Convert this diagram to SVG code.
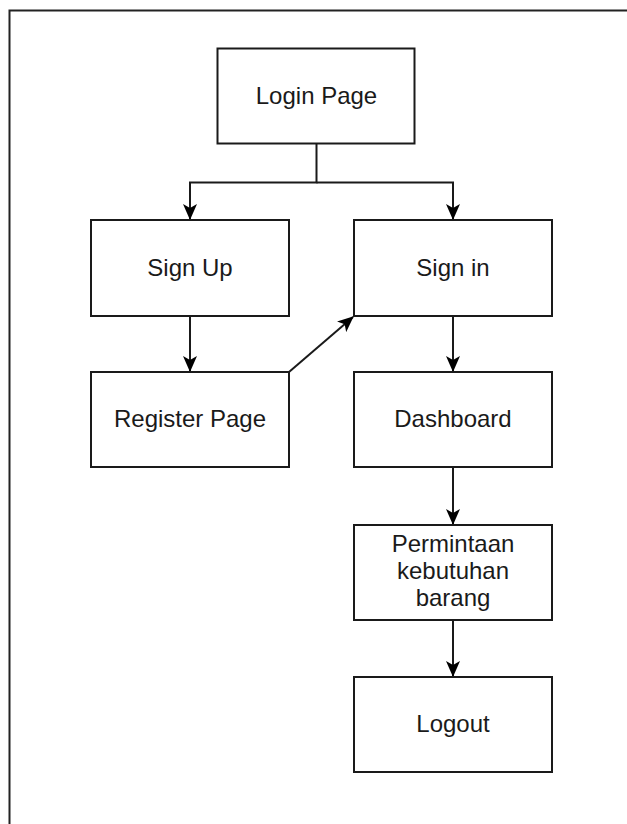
<svg xmlns="http://www.w3.org/2000/svg" width="627" height="824" viewBox="0 0 627 824">
  <style>
    .box { fill: #ffffff; stroke: #1a1a1a; stroke-width: 2; }
    .label { font-family: "Liberation Sans", Arial, sans-serif; font-size: 24px; fill: #1a1a1a; text-anchor: middle; }
    .edge { fill: none; stroke: #1a1a1a; stroke-width: 2; }
  </style>
  <defs>
    <marker id="arrow" viewBox="0 0 16 14" refX="15" refY="7" markerWidth="16" markerHeight="14" markerUnits="userSpaceOnUse" orient="auto">
      <path d="M0,0 L16,7 L0,14 L4,7 Z" fill="#000000"/>
    </marker>
  </defs>

  <rect x="0" y="0" width="627" height="824" fill="#ffffff"/>

  <!-- outer frame: top and left edges only, the rest runs off the page -->
  <path d="M9.5,830 L9.5,10.5 L630,10.5" fill="none" stroke="#222222" stroke-width="2"/>

  <g id="connectors">
    <path class="edge" d="M316.5,143.5 L316.5,182.5 L190,182.5 L190,219" marker-end="url(#arrow)"/>
    <path class="edge" d="M316.5,182.5 L453,182.5 L453,219" marker-end="url(#arrow)"/>
    <path class="edge" d="M190,316 L190,371" marker-end="url(#arrow)"/>
    <path class="edge" d="M289,372 L353,317" marker-end="url(#arrow)" stroke="#444444"/>
    <path class="edge" d="M453,316 L453,371" marker-end="url(#arrow)"/>
    <path class="edge" d="M453,467 L453,524" marker-end="url(#arrow)"/>
    <path class="edge" d="M453,620 L453,676" marker-end="url(#arrow)"/>
  </g>

  <g id="login-page">
    <rect class="box" x="217.5" y="48.5" width="197" height="95"/>
    <text class="label" x="316.5" y="104">Login Page</text>
  </g>

  <g id="sign-up">
    <rect class="box" x="91" y="220" width="198" height="96"/>
    <text class="label" x="190" y="276">Sign Up</text>
  </g>

  <g id="sign-in">
    <rect class="box" x="354" y="220" width="198" height="96"/>
    <text class="label" x="453" y="276">Sign in</text>
  </g>

  <g id="register-page">
    <rect class="box" x="91" y="372" width="198" height="95"/>
    <text class="label" x="190" y="427">Register Page</text>
  </g>

  <g id="dashboard">
    <rect class="box" x="354" y="372" width="198" height="95"/>
    <text class="label" x="453" y="427">Dashboard</text>
  </g>

  <g id="permintaan">
    <rect class="box" x="354" y="525" width="198" height="95"/>
    <text class="label" x="453" y="552">Permintaan</text>
    <text class="label" x="453" y="579">kebutuhan</text>
    <text class="label" x="453" y="606">barang</text>
  </g>

  <g id="logout">
    <rect class="box" x="354" y="677" width="198" height="95"/>
    <text class="label" x="453" y="732">Logout</text>
  </g>
</svg>
